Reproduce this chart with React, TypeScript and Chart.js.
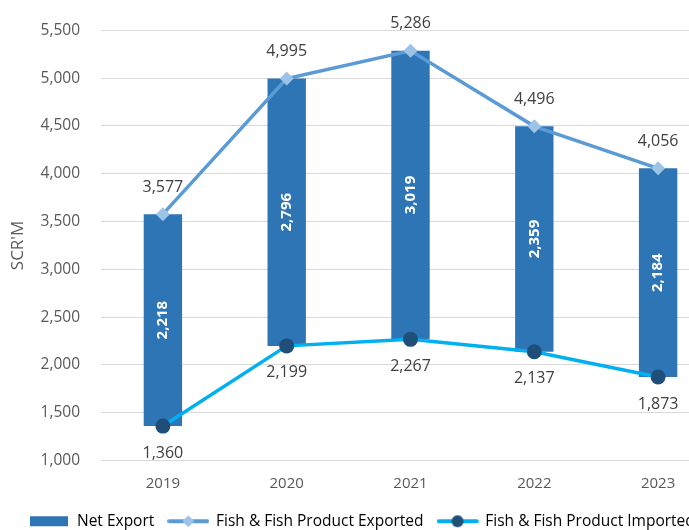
import React, { useEffect, useRef } from "react";
import { Chart, registerables } from "chart.js";

Chart.register(...registerables);

const years = ["2019", "2020", "2021", "2022", "2023"];
const exported = [3577, 4995, 5286, 4496, 4056];
const imported = [1360, 2199, 2267, 2137, 1873];
const netExport = [2218, 2796, 3019, 2359, 2184];
const yTitle = "SCR'M";

const FONT = "'Open Sans', sans-serif";
const BAR_COLOR = "#2E75B6";
const EXP_LINE = "#5B9BD5";
const EXP_MARK = "#9DC3E6";
const IMP_LINE = "#00B0F0";
const IMP_MARK = "#1F4E79";

function makeIcon(kind: string): HTMLCanvasElement {
  const c = document.createElement("canvas");
  const w = kind === "bar" ? 38 : 42;
  const h = 14;
  c.width = w;
  c.height = h;
  const ctx = c.getContext("2d")!;
  if (kind === "bar") {
    ctx.fillStyle = BAR_COLOR;
    ctx.fillRect(0, 2, 38, 10);
  } else {
    ctx.strokeStyle = kind === "exp" ? EXP_LINE : IMP_LINE;
    ctx.lineWidth = 4;
    ctx.lineCap = "round";
    ctx.beginPath();
    ctx.moveTo(2, 7);
    ctx.lineTo(40, 7);
    ctx.stroke();
    if (kind === "exp") {
      ctx.fillStyle = EXP_MARK;
      ctx.beginPath();
      ctx.moveTo(21, 1);
      ctx.lineTo(27, 7);
      ctx.lineTo(21, 13);
      ctx.lineTo(15, 7);
      ctx.closePath();
      ctx.fill();
    } else {
      ctx.fillStyle = IMP_MARK;
      ctx.beginPath();
      ctx.arc(21, 7, 6, 0, Math.PI * 2);
      ctx.fill();
    }
  }
  return c;
}

const fmt = (v: number) => v.toLocaleString("en-US");

const labelPlugin = {
  id: "valueLabels",
  afterDatasetsDraw(chart: any) {
    const ctx = chart.ctx;
    const area = chart.chartArea;
    ctx.save();
    // y axis title
    ctx.save();
    ctx.translate(18, (area.top + area.bottom) / 2);
    ctx.rotate(-Math.PI / 2);
    ctx.fillStyle = "#595959";
    ctx.font = `17px ${FONT}`;
    ctx.textAlign = "center";
    ctx.textBaseline = "middle";
    ctx.fillText(yTitle, 0, 0);
    ctx.restore();
    // bar labels
    const barMeta = chart.getDatasetMeta(0);
    barMeta.data.forEach((el: any, i: number) => {
      const cy = (el.y + el.base) / 2;
      ctx.save();
      ctx.translate(el.x, cy);
      ctx.rotate(-Math.PI / 2);
      ctx.fillStyle = "#FFFFFF";
      ctx.font = `bold 15px ${FONT}`;
      ctx.textAlign = "center";
      ctx.textBaseline = "middle";
      ctx.fillText(fmt(netExport[i]), 0, 0);
      ctx.restore();
    });
    ctx.fillStyle = "#404040";
    ctx.font = `16px ${FONT}`;
    ctx.textAlign = "center";
    ctx.textBaseline = "middle";
    const expMeta = chart.getDatasetMeta(1);
    expMeta.data.forEach((el: any, i: number) => {
      ctx.fillText(fmt(exported[i]), el.x, el.y - 27);
    });
    const impMeta = chart.getDatasetMeta(2);
    impMeta.data.forEach((el: any, i: number) => {
      ctx.fillText(fmt(imported[i]), el.x, el.y + 27);
    });
    ctx.restore();
  },
};

export default function App() {
  const ref = useRef<HTMLCanvasElement>(null);
  useEffect(() => {
    const icons = [makeIcon("bar"), makeIcon("exp"), makeIcon("imp")];
    const names = ["Net Export", "Fish & Fish Product Exported", "Fish & Fish Product Imported"];
    const chart = new Chart(ref.current!, {
      type: "bar",
      data: {
        labels: years,
        datasets: [
          {
            type: "bar",
            label: names[0],
            data: years.map((_, i) => [imported[i], exported[i]]) as any,
            backgroundColor: BAR_COLOR,
            barPercentage: 0.31,
            categoryPercentage: 1,
            order: 10,
          },
          {
            type: "line",
            label: names[1],
            data: exported,
            borderColor: EXP_LINE,
            borderWidth: 3.5,
            pointStyle: "rectRot",
            pointRadius: 7,
            pointBackgroundColor: EXP_MARK,
            pointBorderColor: EXP_MARK,
            pointBorderWidth: 0,
            order: 1,
          },
          {
            type: "line",
            label: names[2],
            data: imported,
            borderColor: IMP_LINE,
            borderWidth: 3.5,
            pointStyle: "circle",
            pointRadius: 7.5,
            pointBackgroundColor: IMP_MARK,
            pointBorderColor: IMP_MARK,
            pointBorderWidth: 0,
            order: 2,
          },
        ],
      } as any,
      options: {
        responsive: false,
        animation: false,
        layout: { padding: { left: 4, right: 15, top: 27, bottom: -9 } },
        plugins: {
          tooltip: { enabled: false },
          legend: {
            position: "bottom",
            labels: {
              usePointStyle: true,
              pointStyleWidth: 40,
              padding: 14,
              color: "#595959",
              font: { family: FONT, size: 15.5 },
              generateLabels: () =>
                names.map((n, i) => ({
                  text: n,
                  pointStyle: icons[i] as any,
                  fillStyle: "transparent",
                  strokeStyle: "transparent",
                  lineWidth: 0,
                  hidden: false,
                  datasetIndex: i,
                })),
            },
          },
        },
        scales: {
          x: {
            grid: { display: false, drawTicks: false },
            border: { display: true, color: "#D9D9D9" },
            ticks: { color: "#595959", font: { family: FONT, size: 15 }, padding: 14 },
            afterFit: (s: any) => {
              s.height = 39;
            },
          },
          y: {
            min: 1000,
            max: 5500,
            grid: { color: "#D9D9D9", drawTicks: false },
            border: { display: false },
            ticks: {
              stepSize: 500,
              color: "#595959",
              font: { family: FONT, size: 15.5 },
              padding: 21,
              callback: (v: any) => fmt(Number(v)),
            },
            afterFit: (s: any) => {
              s.width = 97;
            },
          },
        },
      },
      plugins: [labelPlugin],
    });
    return () => chart.destroy();
  }, []);
  return (
    <div style={{ position: "fixed", left: 0, top: 0, width: 689, height: 530, overflow: "hidden", background: "#fff" }}>
      <canvas ref={ref} width={735} height={530} style={{ width: 735, height: 530, display: "block" }} />
    </div>
  );
}
